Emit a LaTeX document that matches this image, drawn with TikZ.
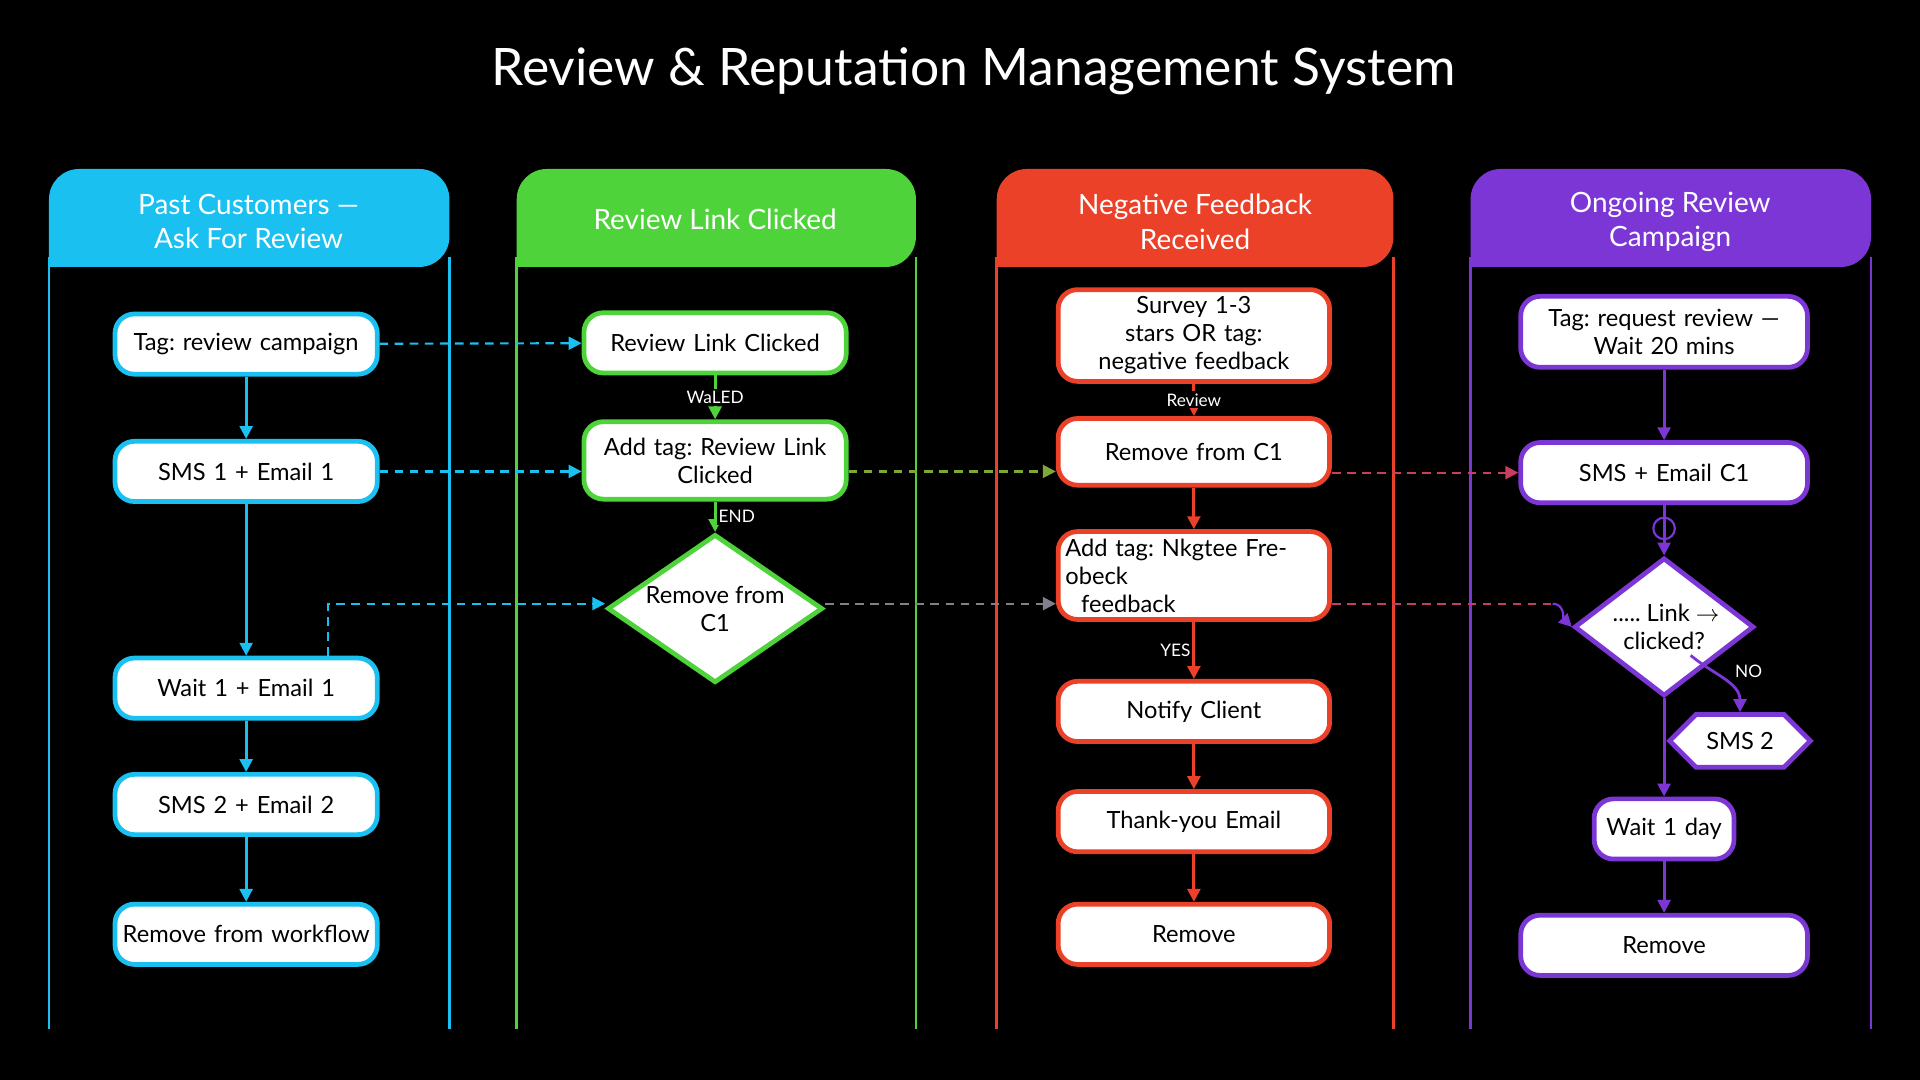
\documentclass[tikz,border=0pt]{standalone}
\usepackage{fontspec}
\setmainfont{Lato}
\frenchspacing
\usetikzlibrary{shapes.geometric,shapes.symbols,arrows.meta,calc,positioning}
\definecolor{cblue}{HTML}{1AC0F0}
\definecolor{cgreen}{HTML}{4FD33A}
\definecolor{cred}{HTML}{EA4128}
\definecolor{cpurple}{HTML}{7D36D6}
\tikzset{
  box/.style={draw=#1, line width=2.2pt, fill=white, rounded corners=9pt,
    minimum height=28pt, text width=4.05cm, align=center, font=\fontsize{11}{13}\selectfont},
  dia/.style={draw=#1, line width=2.2pt, fill=white, diamond, aspect=1.45,
    inner sep=1pt, align=center, font=\fontsize{11}{13}\selectfont},
  flow/.style={draw=#1, line width=1.3pt, -{Triangle[length=6pt,width=6pt]}},
  link/.style={draw=#1, line width=1pt, dashed, dash pattern=on 4pt off 3pt, -{Triangle[length=6pt,width=6pt]}},
  lbl/.style={text=white, font=\fontsize{8}{9}\selectfont, fill=black, inner sep=1pt},
  head/.style={text=white, align=center, font=\fontsize{13}{16}\selectfont},
}
\begin{document}
\begin{tikzpicture}[x=0.02cm, y=-0.02cm]
  \fill[black] (0,0) rectangle (1568,882);
  \node[text=white, font=\fontsize{24}{27}\selectfont] (title) at (795,58) {Review \& Reputation Management System};

  % lanes
  \foreach \xl/\xr/\col in {40/367/cblue, 422/748/cgreen, 814/1138/cred, 1201/1528/cpurple}{
    \draw[\col, line width=1.2pt] (\xl,210) -- (\xl,840);
    \draw[\col, line width=1.2pt] (\xr,210) -- (\xr,840);
    \fill[\col, rounded corners=14pt] (\xl,218) -- (\xl,138) -- (\xr,138) -- (\xr,218) [sharp corners]-- cycle;
  }
  \node[head] (h1) at (203,181) {Past Customers —\\Ask For Review};
  \node[head] (h2) at (584,179) {Review Link Clicked};
  \node[head] (h3) at (976,181) {Negative Feedback\\Received};
  \node[head] (h4) at (1364,181) {Ongoing Review\\Campaign};

  % blue lane
  \node[box=cblue] (tag) at (201,281) {Tag: review campaign};
  \node[box=cblue] (sms1) at (201,385) {SMS 1 + Email 1};
  \node[box=cblue] (wait1) at (201,562) {Wait 1 + Email 1};
  \node[box=cblue] (sms2) at (201,657) {SMS 2 + Email 2};
  \node[box=cblue] (rmwf) at (201,763) {Remove from workflow};
  \draw[flow=cblue] (tag) -- (sms1);
  \draw[flow=cblue] (sms1) -- (wait1);
  \draw[flow=cblue] (wait1) -- (sms2);
  \draw[flow=cblue] (sms2) -- (rmwf);

  % green lane
  \node[box=cgreen] (rlc) at (584,280) {Review Link Clicked};
  \node[box=cgreen, minimum height=36pt] (addrl) at (584,376) {Add tag: Review Link\\Clicked};
  \node[dia=cgreen] (rmc) at (584,497) {Remove from\\C1};
  \draw[flow=cgreen] (rlc) -- node[lbl] {WaLED} (addrl);
  \draw[flow=cgreen] (addrl) -- node[lbl, right] {END} (rmc);

  % red lane
  \node[box=cred, text width=4.2cm, minimum height=36pt] (survey) at (975,274) {Survey 1-3 stars OR tag:\\negative feedback};
  \node[box=cred, text width=4.2cm, minimum height=31pt] (rrm) at (975,369) {Remove from C1};
  \node[box=cred, text width=4.2cm, minimum height=36pt, align=left] (addneg) at (975,470) {Add tag: Nkgtee Freobeck\\\ \ feedback};
  \node[box=cred, text width=4.2cm] (notify) at (975,581) {Notify Client};
  \node[box=cred, text width=4.2cm] (thank) at (975,671) {Thank-you Email};
  \node[box=cred, text width=4.2cm] (rrem) at (975,763) {Remove};
  \draw[flow=cred] (survey) -- node[lbl] {Review} (rrm);
  \draw[flow=cred] (rrm) -- (addneg);
  \draw[flow=cred] (addneg) -- node[lbl, left] {YES} (notify);
  \draw[flow=cred] (notify) -- (thank);
  \draw[flow=cred] (thank) -- (rrem);

  % purple lane
  \node[box=cpurple, minimum height=33pt, text width=4.45cm] (ptag) at (1359,271) {Tag: request review —\\Wait 20 mins};
  \node[box=cpurple, text width=4.45cm] (psms) at (1359,386) {SMS + Email C1};
  \node[dia=cpurple, aspect=1.3] (click) at (1359,512) {\,..... Link $\to$\\clicked?};
  \node[draw=cpurple, line width=2.2pt, fill=white, signal, signal to=east and west,
    minimum width=2.3cm, minimum height=0.86cm, inner sep=0pt,
    font=\fontsize{11}{13}\selectfont] (psms2) at (1421,605) {SMS 2};
  \node[box=cpurple, text width=2.05cm] (pwait) at (1359,677) {Wait 1 day};
  \node[box=cpurple, text width=4.45cm] (prem) at (1359,772) {Remove};
  \draw[flow=cpurple] (ptag) -- (psms);
  \draw[flow=cpurple] (psms) -- (click);
  \draw[cpurple, line width=1pt] ($(psms.south)+(0,19)$) circle (5pt);
  \draw[flow=cpurple] (click.south east) ++(-16,-6) to[out=-40, in=90] (psms2.north);
  \node[lbl] (no) at (1428,548) {NO};
  \draw[flow=cpurple] (click) -- (pwait);
  \draw[flow=cpurple] (pwait) -- (prem);

  % cross-lane links
  \draw[link=cblue] (tag) -- (rlc);
  \draw[link=cblue] (sms1) -- (addrl.west |- sms1);
  \coordinate (wup) at (268,493);
  \draw[link=cblue] ($(wait1.north)+(67,0)$) -- (wup) -- (wup -| rmc.west);
  \draw[link=cgreen!70!cred] (addrl.east |- sms1) -- (sms1 -| rrm.west);
  \draw[link=cred!70!cpurple] (psms.west -| rrm.east) -- (psms.west);
  \draw[link=cblue!50!cred] (wup -| rmc.east) -- (wup -| addneg.west);
  \coordinate (bend) at (1268,493);
  \draw[cred!60!cpurple, line width=1pt, dashed, dash pattern=on 4pt off 3pt] (addneg.east |- bend) -- (bend);
  \draw[cpurple, line width=1pt, -{Triangle[length=6pt,width=6pt]}] (bend) to[out=0, in=135] (click.west);
\end{tikzpicture}
\end{document}
